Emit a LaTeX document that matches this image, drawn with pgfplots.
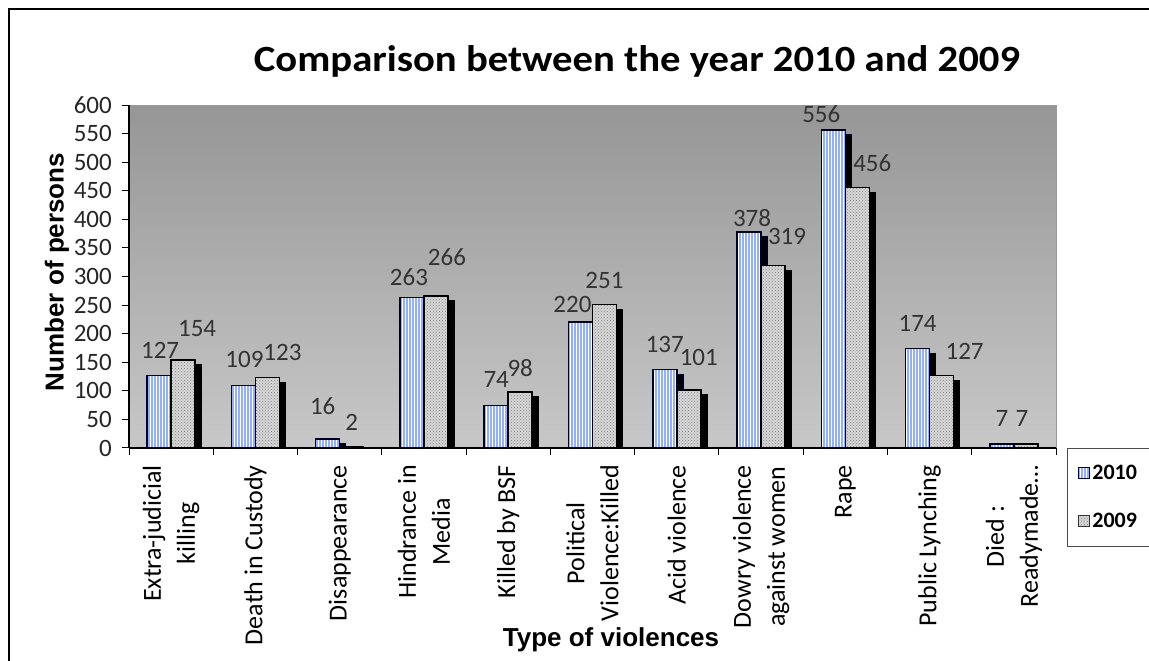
\documentclass[border=0pt]{standalone}
\usepackage{fontspec}
\setmainfont{Carlito}
\newfontfamily\arialf{Liberation Sans}
\usepackage{pgfplots}
\usepackage{pgfplotstable}
\pgfplotsset{compat=1.18}
\usetikzlibrary{patterns,shadows}
\pgfplotsset{/pgf/number format/assume math mode=true}

\pgfplotstableread{
x y dx dy
0 127 1 25
1 109 1 26
2 16 -5 33
3 263 -3 21
4 74 0 26
5 220 -8 18
6 137 0 25
7 378 3 14
8 556 -12 16
9 174 0 25
10 7 0 26
}\dataA
\pgfplotstableread{
x y dx dy
0 154 14 31
1 123 15 25
2 2 0 24
3 266 11 39
4 98 0 24
5 251 0 24
6 101 10 33
7 319 14 29
8 456 15 24
9 127 23 24
10 7 -4 26
}\dataB

\definecolor{bluebar}{RGB}{145,175,252}
\definecolor{graybar}{RGB}{215,215,215}
\definecolor{bgtop}{RGB}{150,150,150}
\definecolor{bgbot}{RGB}{200,200,200}

\begin{document}
\begin{tikzpicture}
\path[use as bounding box] (0pt,0pt) rectangle (1149pt,661pt);
\fill[white] (0pt,0pt) rectangle (1149pt,661pt);
\draw[line width=1.5pt] (9pt,0pt) -- (9pt,652pt) -- (1149pt,652pt);
\node[font=\fontsize{37}{44}\selectfont\bfseries, xscale=1.1, anchor=base] at (637pt,589pt) {Comparison between the year 2010 and 2009};
\begin{axis}[
  at={(129pt,213pt)}, anchor=south west,
  width=927pt, height=343pt, scale only axis,
  xmin=-0.5, xmax=10.5, ymin=0, ymax=600,
  axis background/.style={top color=bgtop, bottom color=bgbot, draw=gray!80},
  separate axis lines,
  axis x line*=bottom, axis y line*=left,
  axis line style={line width=1.2pt, black, -},
  ytick={0,50,100,150,200,250,300,350,400,450,500,550,600},
  xtick={-0.5,0.5,1.5,2.5,3.5,4.5,5.5,6.5,7.5,8.5,9.5,10.5},
  x tick label as interval,
  xticklabels={{Extra-judicial\\killing},{Death in Custody},{Disappearance},{Hindrance in\\Media},{Killed by BSF},{Political\\Violence:Killed},{Acid violence},{Dowry violence\\against women},{Rape},{Public Lynching},{Died :\\Readymade\ldots}},
  xticklabel style={rotate=90, anchor=east, align=center, font=\fontsize{26}{34}\selectfont, inner sep=0pt},
  xticklabel shift=10pt,
  yticklabel style={font=\fontsize{25}{30}\selectfont, inner sep=0pt, text=black!85},
  yticklabel shift=10pt,
  tick align=outside,
  major tick length=7pt,
  tick style={black, line width=1pt},
  legend image code/.code={\draw[#1, line width=1pt] (0pt,-5pt) rectangle (11pt,6pt);},
  legend cell align=left,
  legend style={at={(1,0)}, anchor=north west, xshift=11pt, draw=gray!60!black, line width=0.8pt, font=\fontsize{22}{26}\selectfont\bfseries, inner xsep=11pt, inner ysep=15pt, row sep=28pt},
]
\addplot[ybar, bar width=24pt, bar shift=-12pt, draw=black!85!blue, line width=1.6pt, fill=bluebar,
  postaction={pattern=vertical lines, pattern color=white},
  drop shadow={shadow xshift=6pt, shadow yshift=-5pt, fill=black, opacity=1}, forget plot]
  table[x=x,y=y]{\dataA};
\addplot[ybar, bar width=24pt, bar shift=12pt, draw=black, line width=1.6pt, fill=graybar,
  postaction={pattern=crosshatch dots, pattern color=gray},
  drop shadow={shadow xshift=6pt, shadow yshift=-5pt, fill=black, opacity=1}, forget plot]
  table[x=x,y=y]{\dataB};
\addplot[ybar, bar width=24pt, bar shift=-12pt, draw=none, fill=none, forget plot,
  nodes near coords,
  visualization depends on={\thisrow{dx}\as\dx},
  visualization depends on={\thisrow{dy}\as\dy},
  nodes near coords style={anchor=center, xshift=\dx pt-12pt, yshift=\dy pt, font=\fontsize{25}{30}\selectfont, text=black!80, inner sep=0pt}]
  table[x=x,y=y]{\dataA};
\addplot[ybar, bar width=24pt, bar shift=12pt, draw=none, fill=none, forget plot,
  nodes near coords,
  visualization depends on={\thisrow{dx}\as\dx},
  visualization depends on={\thisrow{dy}\as\dy},
  nodes near coords style={anchor=center, xshift=\dx pt+12pt, yshift=\dy pt, font=\fontsize{25}{30}\selectfont, text=black!80, inner sep=0pt}]
  table[x=x,y=y]{\dataB};
\addlegendimage{fill=bluebar, draw=black!70!blue, postaction={pattern=vertical lines, pattern color=white}}
\addlegendentry{2010}
\addlegendimage{fill=graybar, draw=black!80, postaction={pattern=crosshatch dots, pattern color=gray}}
\addlegendentry{2009}
\end{axis}
\node[font=\arialf\bfseries\fontsize{26}{30}\selectfont, rotate=90] at (57pt,389pt) {Number of persons};
\node[font=\arialf\bfseries\fontsize{26}{30}\selectfont, anchor=base] at (611pt,14pt) {Type of violences};
\end{tikzpicture}
\end{document}
